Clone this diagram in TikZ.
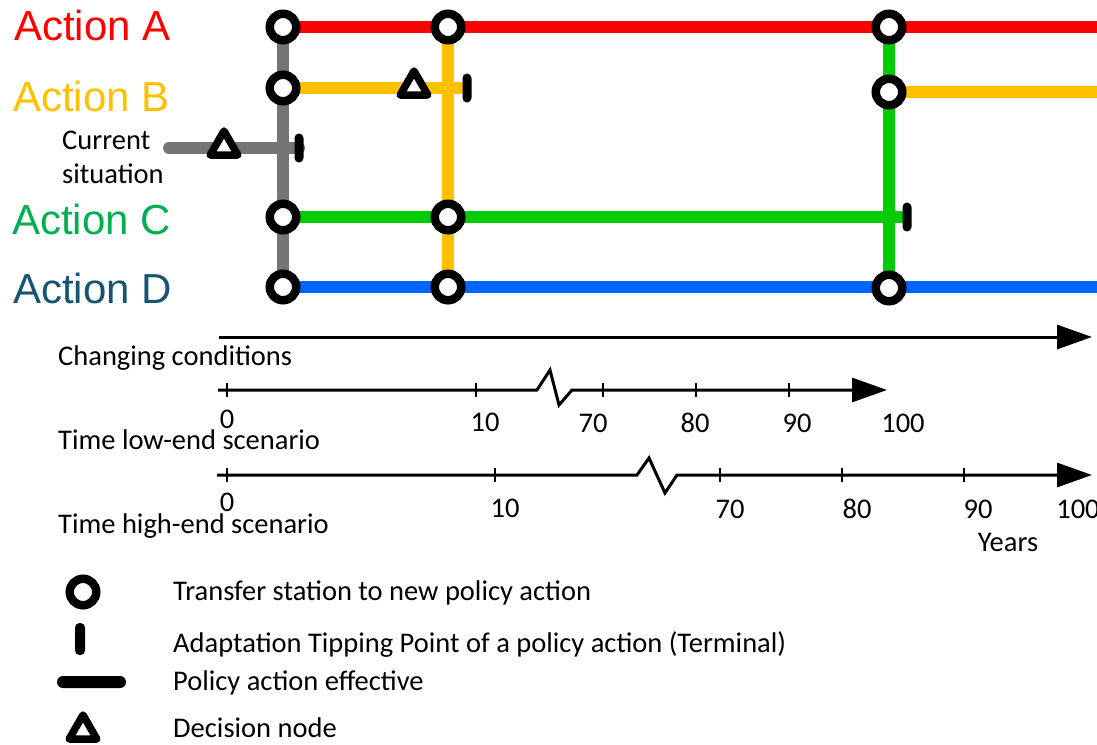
\documentclass[tikz,border=0pt]{standalone}
\usepackage{fontspec}
\setmainfont{Carlito}
\newfontfamily\arialfont{Liberation Sans}
\usetikzlibrary{arrows.meta,shapes.geometric,backgrounds}
\definecolor{actionred}{RGB}{255,0,0}
\definecolor{actionyellow}{RGB}{255,192,0}
\definecolor{actiongreen}{RGB}{0,204,0}
\definecolor{labelgreen}{RGB}{0,176,80}
\definecolor{actionblue}{RGB}{0,102,255}
\definecolor{labelteal}{RGB}{21,84,114}
\colorlet{currentgrey}{black!54}

\tikzset{
    station/.style={circle, draw=black, fill=white, line width=8.5pt, minimum size=26.5pt, inner sep=0pt},
    terminal/.style={rectangle, fill=black, minimum width=9pt, minimum height=29pt, rounded corners=4.5pt, inner sep=0pt},
    effbar/.style={rectangle, fill=black, minimum width=69pt, minimum height=12pt, rounded corners=6pt, inner sep=0pt},
    decision/.style={regular polygon, regular polygon sides=3, draw=black, fill=white, line width=7.5pt, line join=round, minimum size=32pt, inner sep=0pt},
    metro/.style={line width=12pt},
    axisline/.style={line width=3pt, line join=miter},
    axistip/.style={-{Triangle[length=35pt,width=24pt]}},
    tick/.style={line width=2.5pt},
    actionlabel/.style={font=\arialfont\fontsize{42}{48}\selectfont, inner sep=0pt, anchor=base west},
    calib/.style={font=\fontsize{28.5}{34}\selectfont, inner sep=0pt},
}

\begin{document}
\begin{tikzpicture}[x=1pt, y=-1pt]
    \useasboundingbox (0,0) rectangle (1097,744);

    % action labels
    \node[actionlabel, text=actionred] (labA) at (14,40) {Action A};
    \node[actionlabel, text=actionyellow] (labB) at (13,111) {Action B};
    \node[actionlabel, text=labelgreen] (labC) at (12,234) {Action C};
    \node[actionlabel, text=labelteal] (labD) at (13,303) {Action D};
    \node[calib, anchor=base west] (curTxtA) at (62,149) {Current};
    \node[calib, anchor=base west] (curTxtB) at (62,183) {situation};

    % transfer stations
    \foreach \name/\x/\y in {sA1/283/27, sA2/448/27, sA3/889/27,
                             sB1/283/88, sB3/889/92,
                             sC1/283/217, sC2/448/217,
                             sD1/283/287, sD2/448/287, sD3/889/288}{
        \node[station] (\name) at (\x,\y) {};
    }
    \node[terminal] (tCur) at (299,148) {};
    \node[terminal] (tB) at (467,88) {};
    \node[terminal] (tC) at (907,217) {};
    \node[decision] (dCur) at (224,147) {};
    \node[decision] (dB) at (414,87) {};

    \coordinate (curStart) at (169,148);
    \coordinate (endA) at (1097,27);
    \coordinate (endB) at (1097,92);
    \coordinate (endD) at (1097,287);

    \begin{scope}[on background layer]
        \draw[metro, currentgrey, line cap=round] (curStart) -- (tCur.center);
        \draw[metro, currentgrey] (sA1.center) -- (sD1.center);
        \draw[metro, actionyellow] (sA2.center) -- (sD2.center);
        \draw[metro, actiongreen] (sA3.center) -- (sD3.center);
        \draw[metro, actionred] (sA1.center) -- (endA);
        \draw[metro, actionyellow] (sB1.center) -- (tB.center);
        \draw[metro, actionyellow] (sB3.center) -- (endB);
        \draw[metro, actiongreen] (sC1.center) -- (tC.center);
        \draw[metro, actionblue] (sD1.center) -- (endD);
    \end{scope}

    % axes
    \coordinate (condStart) at (219,337);
    \coordinate (condEnd) at (1092,337);
    \coordinate (lowStart) at (218,390);
    \coordinate (lowEnd) at (887,390);
    \coordinate (highStart) at (217,475);
    \coordinate (highEnd) at (1092,475);
    \draw[axisline, axistip] (condStart) -- (condEnd);
    \draw[axisline, axistip] (lowStart) -- (537,390) -- (550,370) -- (559,405) -- (572,390) -- (lowEnd);
    \draw[axisline, axistip] (highStart) -- (637,475) -- (649,458) -- (665,493) -- (677,475) -- (highEnd);
    \foreach \tx in {227,476,603,696,789}{
        \draw[tick] (\tx,383) -- (\tx,397);
    }
    \foreach \tx in {227,495,720,842,964}{
        \draw[tick] (\tx,468) -- (\tx,482);
    }
    \foreach \tx/\ty/\lab in {227/428/0, 485/431/10, 593/432/70, 695/432/80, 797/432/90, 903/432/100}{
        \node[calib, anchor=base] at (\tx,\ty) {\lab};
    }
    \foreach \tx/\ty/\lab in {227/511/0, 505/517/10, 730/518/70, 857/518/80, 978/518/90, 1078/518/100}{
        \node[calib, anchor=base] at (\tx,\ty) {\lab};
    }
    \node[calib, anchor=base west] (condTxt) at (58,365) {Changing conditions};
    \node[calib, anchor=base west] (lowTxt) at (58,449) {Time low-end scenario};
    \node[calib, anchor=base west] (highTxt) at (58,533) {Time high-end scenario};
    \node[calib, anchor=base] (yearsTxt) at (1008,551) {Years};

    % legend
    \node[station] (legStation) at (83,592) {};
    \node[terminal, minimum height=32pt, minimum width=10pt] (legTerminal) at (80,639) {};
    \node[effbar] (legEffective) at (91.5,682) {};
    \node[decision] (legDecision) at (83,731) {};
    \node[calib, anchor=base west] at (173,600) {Transfer station to new policy action};
    \node[calib, anchor=base west] at (173,652) {Adaptation Tipping Point of a policy action (Terminal)};
    \node[calib, anchor=base west] at (173,690) {Policy action effective};
    \node[calib, anchor=base west] at (173,737) {Decision node};
\end{tikzpicture}
\end{document}
